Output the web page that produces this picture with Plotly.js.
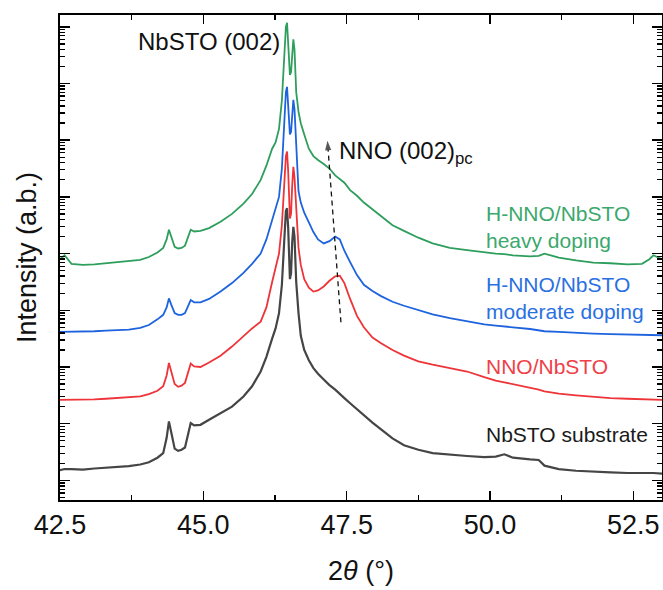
<!DOCTYPE html>
<html>
<head>
<meta charset="utf-8">
<script src="https://cdn.plot.ly/plotly-3.0.1.min.js"></script>
<style>html,body{margin:0;padding:0;background:#fff}#chart{width:663px;height:590px}</style>
</head>
<body>
<div id="chart"></div>
<script>
const twoTheta = [42.50,42.58,42.70,42.90,43.10,43.30,43.50,43.70,43.90,44.05,44.20,44.30,44.36,44.40,44.44,44.50,44.56,44.62,44.68,44.74,44.78,44.84,44.95,45.10,45.30,45.50,45.70,45.85,46.00,46.10,46.20,46.26,46.32,46.37,46.41,46.44,46.46,46.48,46.51,46.53,46.55,46.57,46.59,46.62,46.66,46.70,46.76,46.84,46.92,47.00,47.10,47.20,47.30,47.38,47.46,47.56,47.68,47.80,47.95,48.10,48.30,48.50,48.75,49.00,49.30,49.60,49.90,50.10,50.25,50.40,50.70,50.85,50.95,51.20,51.50,51.80,52.10,52.40,52.65,52.78,52.85,53.00];

// log10 of intensity (arbitrary units, curves offset vertically as in the figure)
const substrateLogI = [0.18,0.20,0.20,0.19,0.21,0.22,0.23,0.25,0.28,0.32,0.40,0.48,0.75,1.04,0.85,0.56,0.52,0.54,0.58,0.82,1.01,0.97,0.98,1.07,1.18,1.30,1.48,1.66,1.92,2.18,2.50,2.68,2.95,3.45,4.20,4.75,4.80,4.45,3.55,3.65,4.20,4.47,4.30,3.50,2.95,2.55,2.30,2.12,1.98,1.88,1.78,1.68,1.60,1.52,1.45,1.36,1.25,1.14,1.02,0.90,0.74,0.62,0.54,0.48,0.45,0.43,0.41,0.42,0.46,0.40,0.37,0.36,0.26,0.20,0.17,0.15,0.14,0.13,0.13,0.14,0.13,0.12];
const nnoLogI = [1.42,1.42,1.42,1.43,1.43,1.44,1.45,1.46,1.48,1.52,1.58,1.66,1.85,2.07,1.92,1.70,1.65,1.67,1.72,1.92,2.06,2.01,2.00,2.08,2.20,2.36,2.55,2.68,2.80,3.05,3.50,3.75,4.00,4.50,5.20,5.72,5.80,5.45,4.62,4.70,5.20,5.53,5.35,4.70,4.10,3.80,3.55,3.40,3.33,3.35,3.42,3.52,3.60,3.61,3.48,3.20,2.90,2.70,2.52,2.42,2.30,2.20,2.10,2.04,1.98,1.92,1.82,1.76,1.73,1.70,1.63,1.60,1.57,1.53,1.50,1.47,1.45,1.44,1.43,1.42,1.42,1.42];
const moderateLogI = [2.62,2.62,2.62,2.63,2.63,2.64,2.65,2.66,2.69,2.74,2.84,2.92,3.05,3.21,3.10,2.95,2.92,2.92,2.95,3.08,3.18,3.14,3.14,3.20,3.33,3.48,3.66,3.82,4.00,4.25,4.60,4.78,5.00,5.50,6.30,6.85,6.94,6.60,6.10,6.15,6.50,6.71,6.55,5.90,5.10,4.90,4.72,4.55,4.38,4.25,4.18,4.22,4.30,4.25,4.05,3.85,3.62,3.45,3.34,3.25,3.15,3.08,3.00,2.93,2.86,2.80,2.75,2.73,2.72,2.70,2.67,2.65,2.63,2.62,2.60,2.59,2.58,2.57,2.56,2.56,2.56,2.56];
const heavyLogI = [3.90,3.97,3.82,3.80,3.81,3.83,3.85,3.86,3.89,3.94,4.02,4.10,4.25,4.42,4.30,4.12,4.09,4.10,4.14,4.30,4.42,4.39,4.40,4.45,4.56,4.70,4.88,5.05,5.30,5.55,5.85,5.96,6.20,6.70,7.50,8.00,8.07,7.75,7.15,7.20,7.60,7.78,7.60,6.85,6.50,6.30,6.10,5.85,5.72,5.65,5.58,5.50,5.38,5.32,5.25,5.12,5.02,4.90,4.78,4.66,4.50,4.40,4.28,4.18,4.10,4.06,4.02,4.00,3.99,3.97,3.95,3.96,4.00,3.93,3.88,3.84,3.83,3.81,3.82,3.90,3.97,3.90];

// dashed guide (with arrow tip) for the NNO (002)pc peak shift
const guideTwoTheta = [47.40, 47.165];
const guideLogI = [2.79, 5.99];

const seriesNames = ['NbSTO substrate', 'NNO/NbSTO', 'H-NNO/NbSTO moderate doping', 'H-NNO/NbSTO heavy doping'];
const seriesLog = [substrateLogI, nnoLogI, moderateLogI, heavyLogI];
const lineColors = ['#454545', '#EE3438', '#1E63DE', '#2E9E5C'];
const lineWidths = [2.2, 1.8, 1.8, 1.8];

const FONT = 'Liberation Sans, Arial, Helvetica, sans-serif';

const traces = seriesLog.map((vals, i) => ({
  type: 'scatter', mode: 'lines', name: seriesNames[i],
  x: twoTheta, y: vals.map(v => Math.pow(10, v)),
  line: {color: lineColors[i], width: lineWidths[i]}, hoverinfo: 'skip'
}));
traces.push({
  type: 'scatter', mode: 'lines+markers', x: guideTwoTheta, y: guideLogI.map(v => Math.pow(10, v)),
  line: {color: '#111', width: 1.3, dash: '5px,4px'},
  marker: {symbol: 'arrow', size: [0, 10], angleref: 'previous', color: '#111', line: {width: 0}},
  hoverinfo: 'skip'
});

const labelFont = (c) => ({family: FONT, size: 21, color: c});

const layout = {
  width: 663, height: 590,
  margin: {l: 60, r: 1, t: 15, b: 90},
  paper_bgcolor: '#fff', plot_bgcolor: '#fff',
  showlegend: false,
  font: {family: FONT, color: '#111'},
  xaxis: {
    range: [42.5, 53.0], tick0: 42.5, dtick: 2.5, tickformat: '.1f',
    ticks: 'inside', ticklen: 9, tickwidth: 1.5, tickcolor: '#000',
    minor: {ticks: 'inside', ticklen: 5, tickwidth: 1.3, dtick: 1.25, tickcolor: '#000', showgrid: false},
    mirror: 'allticks', showline: true, linewidth: 2, linecolor: '#000',
    showgrid: false, zeroline: false,
    tickfont: {family: FONT, size: 27, color: '#111'},
    title: {text: '2<i>θ</i> (°)', font: {family: FONT, size: 27, color: '#111'}, standoff: 22}
  },
  yaxis: {
    type: 'log', range: [-0.346, 8.208], dtick: 1,
    showticklabels: false,
    ticks: 'inside', ticklen: 10, tickwidth: 1.5, tickcolor: '#000',
    minor: {ticks: 'inside', ticklen: 5, tickwidth: 1.3, dtick: 'D1', tickcolor: '#000', showgrid: false},
    mirror: 'allticks', showline: true, linewidth: 2, linecolor: '#000',
    showgrid: false, zeroline: false,
    title: {text: 'Intensity (a.b.)', font: {family: FONT, size: 27, color: '#111'}, standoff: 14}
  },
  annotations: [
    {xref: 'paper', yref: 'paper', x: 0.2475, y: 0.946, xanchor: 'center', yanchor: 'middle',
     text: 'NbSTO (002)', showarrow: false, font: {family: FONT, size: 24, color: '#111'}},
    {xref: 'paper', yref: 'paper', x: 0.46, y: 0.716, xanchor: 'left', yanchor: 'middle',
     text: 'NNO (002)<sub>pc</sub>', showarrow: false, font: {family: FONT, size: 24, color: '#111'}},
    {xref: 'paper', yref: 'paper', x: 0.704, y: 0.563, xanchor: 'left', yanchor: 'middle', align: 'left',
     text: 'H-NNO/NbSTO<br>heavy doping', showarrow: false, font: labelFont('#3BA86C')},
    {xref: 'paper', yref: 'paper', x: 0.704, y: 0.4155, xanchor: 'left', yanchor: 'middle', align: 'left',
     text: 'H-NNO/NbSTO<br>moderate doping', showarrow: false, font: labelFont('#2A70E2')},
    {xref: 'paper', yref: 'paper', x: 0.704, y: 0.2753, xanchor: 'left', yanchor: 'middle', align: 'left',
     text: 'NNO/NbSTO', showarrow: false, font: labelFont('#EF4048')},
    {xref: 'paper', yref: 'paper', x: 0.704, y: 0.135, xanchor: 'left', yanchor: 'middle', align: 'left',
     text: 'NbSTO substrate', showarrow: false, font: labelFont('#1a1a1a')}
  ]
};

Plotly.newPlot('chart', traces, layout, {staticPlot: true, displayModeBar: false});
</script>
</body>
</html>
